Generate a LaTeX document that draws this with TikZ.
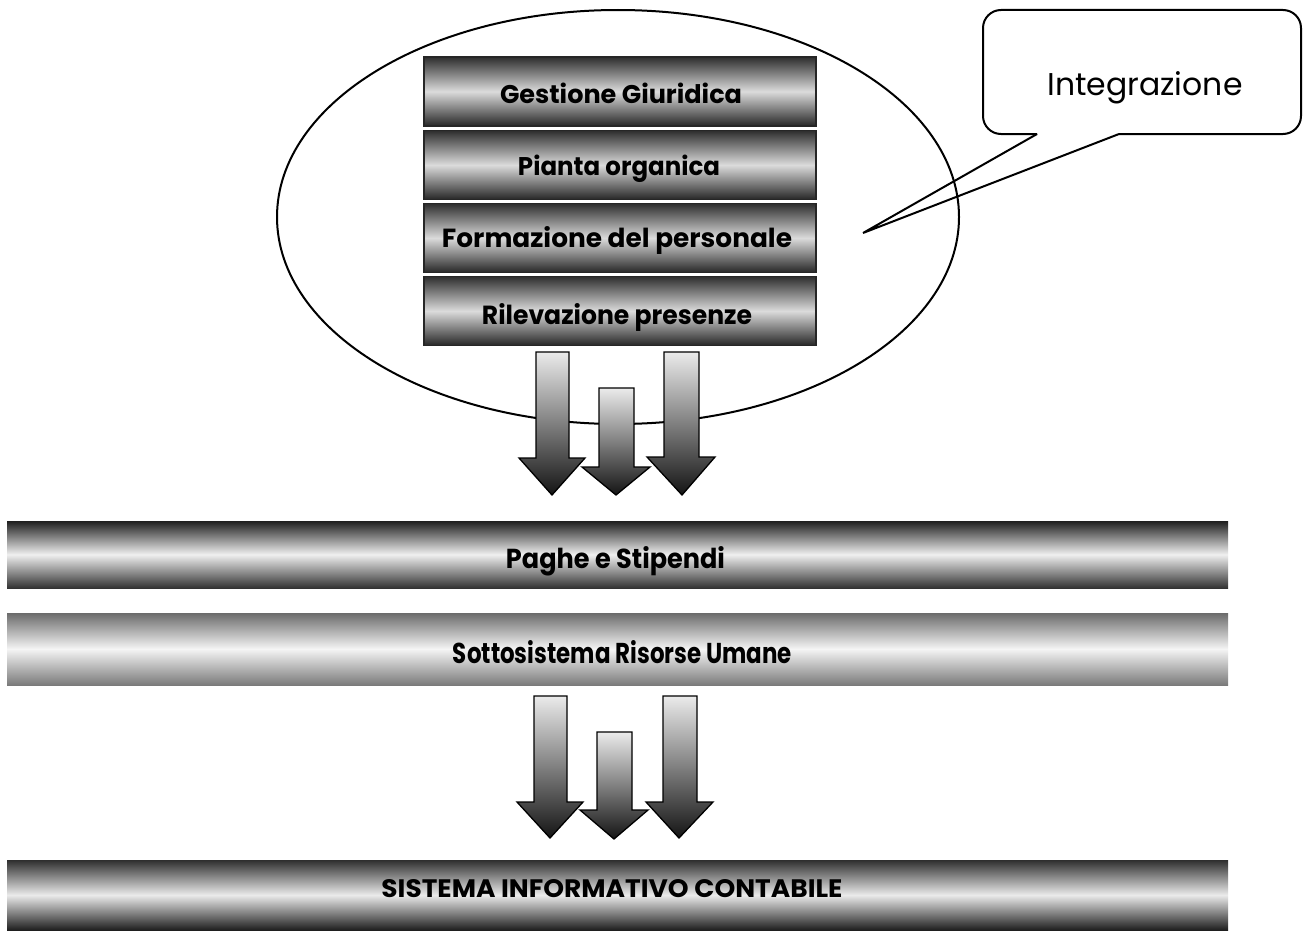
\documentclass[tikz,border=0pt]{standalone}
\usepackage{fontspec}
\setmainfont{Poppins}
\usepackage{graphicx}
\usetikzlibrary{shapes.geometric}
\newcommand{\fitw}[2]{\resizebox{#1}{!}{#2}}
\newcommand{\fitwh}[3]{\resizebox{#1}{#2}{\bfseries #3}}
\begin{document}
\begin{tikzpicture}[x=1pt,y=-1pt,
  boxshade/.style={top color=black!82, bottom color=black!85, middle color=black!14,
    draw=black!85, line width=1.2pt, minimum width=392pt, minimum height=69pt, inner sep=0pt},
  bandA/.style={top color=black!88, bottom color=black!80, middle color=black!6,
    minimum width=1221pt, minimum height=67pt, inner sep=0pt},
  bandB/.style={top color=black!58, bottom color=black!52, middle color=black!4,
    minimum width=1221pt, minimum height=72pt, inner sep=0pt},
  bandC/.style={top color=black!82, bottom color=black!88, middle color=black!8,
    minimum width=1221pt, minimum height=70pt, inner sep=0pt},
  arrowshade/.style={top color=black!8, bottom color=black!92, draw=black, line width=1.3pt},
  outline/.style={draw=black, line width=2pt},
  lbl/.style={inner sep=0pt, text=black, anchor=base}
]
\useasboundingbox (0,0) rectangle (1311,934);
\fill[white] (0,0) rectangle (1311,934);

% group ellipse
\node[outline, ellipse, minimum width=682pt, minimum height=414pt, inner sep=0pt] (grp) at (618,217) {};

% module boxes
\node[boxshade] (gest) at (620,91.5) {};
\node[boxshade] (pian) at (620,165) {};
\node[boxshade] (form) at (620,238) {};
\node[boxshade] (rile) at (620,311) {};
\node[lbl] (gestT) at (621,103) {\fitwh{242pt}{20.5pt}{Gestione Giuridica}};
\node[lbl] (pianT) at (619,175) {\fitwh{202pt}{20.5pt}{Pianta organica}};
\node[lbl] (formT) at (617,247) {\fitwh{350pt}{21pt}{Formazione del personale}};
\node[lbl] (rileT) at (617,324) {\fitwh{270pt}{21pt}{Rilevazione presenze}};

% first arrows
\shade[arrowshade] (536,352) -- (569,352) -- (569,458) -- (585,458) -- (552,495) -- (519,458) -- (536,458) -- cycle;
\shade[arrowshade] (599,388) -- (634,388) -- (634,467) -- (650,467) -- (616,495) -- (582,467) -- (599,467) -- cycle;
\shade[arrowshade] (664,352) -- (699,352) -- (699,457) -- (715,457) -- (682,495) -- (647,457) -- (664,457) -- cycle;

% bands
\node[bandA] (pag) at (617.5,554.5) {};
\node[bandB] (sott) at (617.5,649) {};
\node[lbl] (pagT) at (615.5,568) {\fitwh{219pt}{22pt}{Paghe e Stipendi}};
\node[lbl] (sottT) at (622.5,663) {\fitwh{339pt}{23pt}{Sottosistema Risorse Umane}};

% second arrows
\shade[arrowshade] (534,696) -- (567,696) -- (567,802) -- (583,802) -- (550,838) -- (517,802) -- (534,802) -- cycle;
\shade[arrowshade] (597,732) -- (632,732) -- (632,810) -- (648,810) -- (614,839) -- (580,810) -- (597,810) -- cycle;
\shade[arrowshade] (663,696) -- (697,696) -- (697,802) -- (713,802) -- (679,838) -- (646,802) -- (663,802) -- cycle;

\node[bandC] (sic) at (617.5,895) {};
\node[lbl] (sicT) at (612,897) {\fitwh{461pt}{18pt}{SISTEMA INFORMATIVO CONTABILE}};

% callout
\coordinate (tip) at (863,233);
\coordinate (bl) at (1037,134);
\coordinate (br) at (1119,134);
\draw[outline, rounded corners=18pt] (bl) -- (983,134) -- (983,10) -- (1301,10) -- (1301,134) -- (br);
\draw[outline, line join=miter] (bl) -- (tip) -- (br);
\node[lbl, anchor=center] (integ) at (1145,88) {\fitw{195pt}{Integrazione}};
\end{tikzpicture}
\end{document}
